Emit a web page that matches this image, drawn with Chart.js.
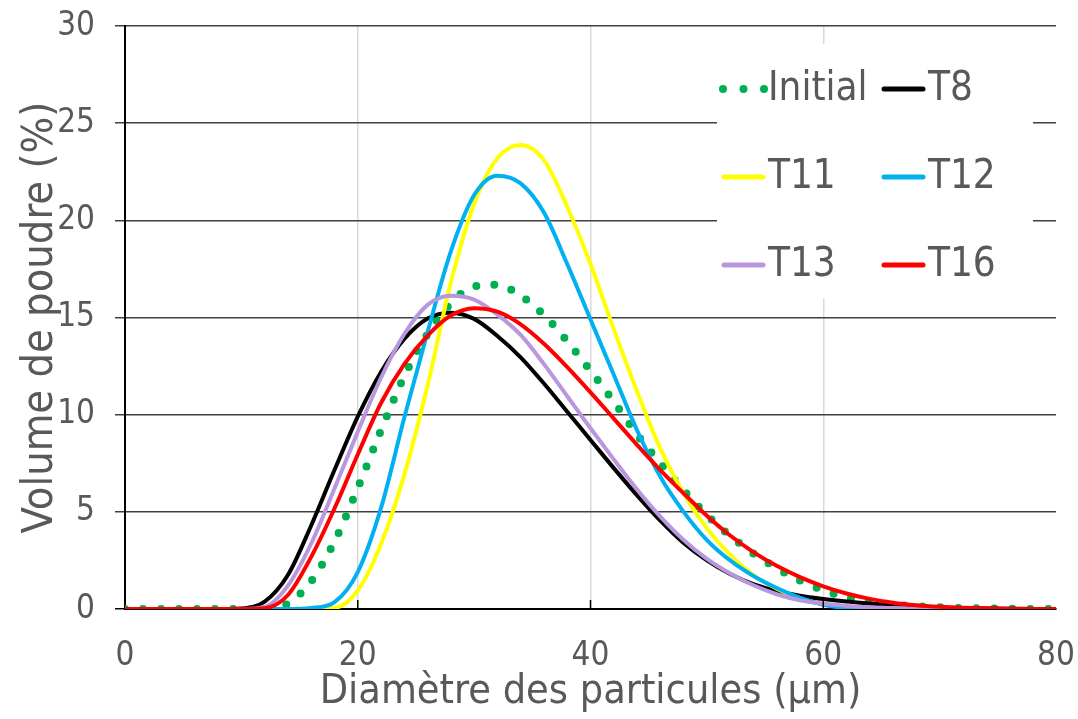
<!DOCTYPE html>
<html>
<head>
<meta charset="utf-8">
<script src="https://cdn.jsdelivr.net/npm/chart.js@4.4.1/dist/chart.umd.min.js"></script>
<style>
  html, body { margin: 0; padding: 0; background: #fff; }
  #wrap { width: 1078px; height: 719px; }
</style>
</head>
<body>
<div id="wrap"><canvas id="psdChart" width="1078" height="719"></canvas></div>
<script>
// diamètre (µm)
const diam = [0, 4, 8, 10, 12, 14, 16, 18, 20, 22, 24, 26, 28, 30, 32, 34, 36, 38, 40,
  42, 44, 46, 48, 50, 52, 54, 56, 58, 60, 62, 64, 66, 68, 70, 72, 76, 80];

// volume (%)
const initial = [0, 0, 0, 0, 0, 0.28, 1.43, 3.47, 6.22, 9.2, 11.98, 14.15, 15.73, 16.6, 16.68, 16.12, 15.13, 13.78, 12.26,
  10.67, 8.97, 7.5, 6.1, 4.84, 3.76, 2.86, 2.1, 1.46, 0.97, 0.6, 0.38, 0.24, 0.14, 0.09, 0.05, 0.01, 0];
const t8 = [0, 0, 0, 0.03, 0.38, 1.75, 4.3, 7.15, 9.9, 12.2, 13.9, 14.95, 15.25, 14.93, 14.05, 12.95, 11.6, 10.15, 8.7,
  7.25, 5.85, 4.55, 3.4, 2.5, 1.8, 1.28, 0.93, 0.68, 0.51, 0.38, 0.28, 0.19, 0.12, 0.07, 0.04, 0.01, 0];
const t11 = [0, 0, 0, 0, 0, 0, 0, 0.05, 0.95, 3.35, 6.9, 11.5, 16.8, 20.85, 23.2, 23.88, 23.1, 20.7, 17.75,
  14.4, 11.2, 8.25, 5.95, 4.15, 2.8, 1.75, 1.05, 0.55, 0.25, 0.1, 0.03, 0, 0, 0, 0, 0, 0];
const t12 = [0, 0, 0, 0, 0, 0, 0.05, 0.35, 1.9, 5.2, 9.85, 14.25, 18.4, 21.3, 22.3, 21.9, 20.4, 17.75, 14.9,
  12.05, 9.2, 6.8, 5.0, 3.55, 2.5, 1.7, 1.08, 0.58, 0.22, 0.05, 0.01, 0, 0, 0, 0, 0, 0];
const t13 = [0, 0, 0, 0, 0.1, 1.2, 3.37, 6.2, 9.12, 11.9, 14.15, 15.65, 16.12, 15.92, 15.15, 14.1, 12.6, 10.95, 9.3,
  7.7, 6.15, 4.75, 3.55, 2.58, 1.83, 1.22, 0.76, 0.45, 0.27, 0.16, 0.09, 0.05, 0.02, 0, 0, 0, 0];
const t16 = [0, 0, 0, 0, 0.04, 0.72, 2.68, 5.17, 7.95, 10.6, 12.6, 14.07, 15.1, 15.48, 15.3, 14.65, 13.65, 12.45, 11.15,
  9.8, 8.45, 7.15, 5.95, 4.8, 3.78, 2.93, 2.22, 1.64, 1.17, 0.8, 0.52, 0.32, 0.19, 0.11, 0.06, 0.01, 0];

const seriesNames = ['Initial', 'T8', 'T11', 'T12', 'T13', 'T16'];
const seriesData = [initial, t8, t11, t12, t13, t16];
const seriesColors = ['#00b050', '#000000', '#ffff00', '#00b0f0', '#b996dd', '#ff0000'];

const textColor = '#595959';
const fontFam = "'DejaVu Sans Condensed', 'DejaVu Sans', sans-serif";

Chart.defaults.font.family = fontFam;
Chart.defaults.color = textColor;

const toPoints = arr => arr.map((v, i) => ({ x: diam[i], y: v }));

const datasets = seriesNames.map((name, i) => {
  const ds = {
    label: name,
    data: toPoints(seriesData[i]),
    borderColor: seriesColors[i],
    backgroundColor: seriesColors[i],
    borderWidth: 4,
    pointRadius: 0,
    fill: false,
    cubicInterpolationMode: 'monotone',
    order: seriesNames.length - i
  };
  if (i === 0) {
    ds.borderWidth = 8;
    ds.borderDash = [0, 18];
    ds.borderCapStyle = 'round';
  }
  return ds;
});

// legend box inside the plot, two columns
const legendBox = {
  id: 'legendBox',
  afterDraw(chart) {
    const c = chart.ctx;
    c.save();
    c.fillStyle = '#ffffff';
    c.fillRect(717, 44, 316, 254);
    const cols = [722, 882];
    const rows = [89, 177, 265];
    c.font = '40px ' + fontFam;
    c.textBaseline = 'middle';
    c.textAlign = 'left';
    chart.data.datasets.forEach((ds, i) => {
      const x = cols[i % 2];
      const y = rows[Math.floor(i / 2)];
      c.beginPath();
      c.strokeStyle = ds.borderColor;
      if (i === 0) {
        c.lineWidth = 8;
        c.lineCap = 'round';
        c.setLineDash([0, 20.5]);
        c.moveTo(x + 1, y);
        c.lineTo(x + 43, y);
      } else {
        c.lineWidth = 5;
        c.lineCap = 'round';
        c.setLineDash([]);
        c.moveTo(x + 2, y);
        c.lineTo(x + 41, y);
      }
      c.stroke();
      c.fillStyle = textColor;
      c.fillText(ds.label, x + 46, y + 1);
    });
    c.restore();
  }
};

// small tick marks pointing up into the plot
const innerTicks = {
  id: 'innerTicks',
  afterDatasetsDraw(chart) {
    const c = chart.ctx;
    const xs = chart.scales.x;
    const bottom = chart.chartArea.bottom;
    c.save();
    c.strokeStyle = '#000';
    c.lineWidth = 1.5;
    [20, 40, 60].forEach(v => {
      const px = xs.getPixelForValue(v);
      c.beginPath();
      c.moveTo(px, bottom - 9);
      c.lineTo(px, bottom);
      c.stroke();
    });
    c.restore();
  }
};

new Chart(document.getElementById('psdChart').getContext('2d'), {
  type: 'line',
  data: { datasets },
  plugins: [innerTicks, legendBox],
  options: {
    responsive: false,
    animation: false,
    devicePixelRatio: 1,
    layout: { padding: { top: 26, right: 22, left: 0, bottom: 0 } },
    plugins: {
      legend: { display: false },
      tooltip: { enabled: false }
    },
    scales: {
      x: {
        type: 'linear',
        min: 0,
        max: 80,
        afterFit: s => { s.height = 110; },
        border: { display: true, color: '#000', width: 2 },
        grid: {
          drawTicks: false,
          lineWidth: 1.5,
          color: ctx => (ctx.tick && (ctx.tick.value === 0 || ctx.tick.value === 80)) ? 'rgba(0,0,0,0)' : '#d9d9d9'
        },
        ticks: {
          stepSize: 20,
          padding: 3,
          color: textColor,
          font: { size: 33, lineHeight: 2.7 }
        },
        title: {
          display: true,
          text: 'Diamètre des particules (µm)',
          color: textColor,
          font: { size: 41 },
          padding: { top: 0, bottom: 2 }
        }
      },
      y: {
        min: 0,
        max: 30,
        afterFit: s => { s.width = 125; },
        border: { display: true, color: '#000', width: 2 },
        grid: {
          drawTicks: true,
          tickLength: 10,
          lineWidth: 1.5,
          color: ctx => (ctx.tick && ctx.tick.value === 0) ? '#000' : '#404040'
        },
        ticks: {
          stepSize: 5,
          padding: 20,
          color: textColor,
          font: { size: 33, lineHeight: 0.35 }
        },
        title: {
          display: true,
          text: 'Volume de poudre (%)',
          color: textColor,
          font: { size: 43 },
          padding: { top: 15, bottom: 0 }
        }
      }
    }
  }
});
</script>
</body>
</html>
